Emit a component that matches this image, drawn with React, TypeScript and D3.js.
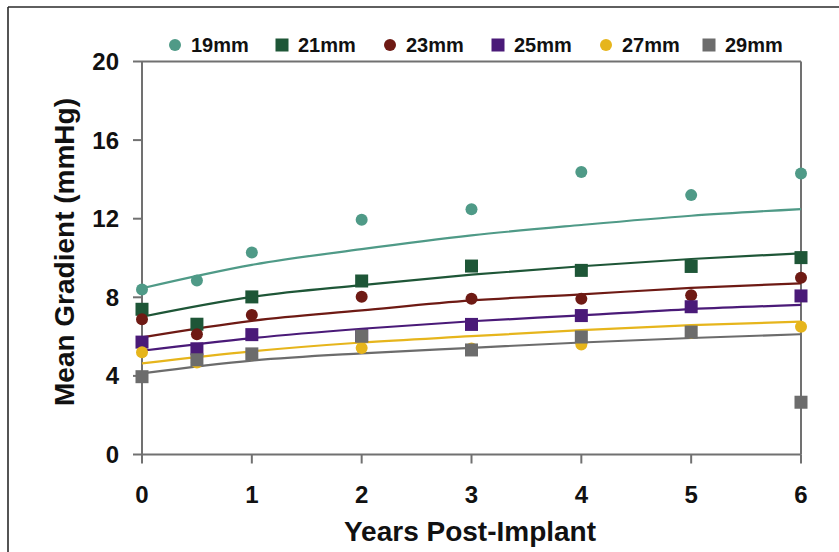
import React from "react";
import * as d3 from "d3";

const years = [0, 0.5, 1, 2, 3, 4, 5, 6];
const trendYears = [0, 1, 2, 3, 4, 5, 6];
const sizes = ["19mm", "21mm", "23mm", "25mm", "27mm", "29mm"];
const shapes = ["circle", "square", "circle", "square", "circle", "square"];
const colors = ["#4F9A87", "#1E5637", "#6E1A14", "#4A1A78", "#E6B51C", "#6C6C6C"];

const g19 = [8.4, 8.85, 10.28, 11.95, 12.48, 14.38, 13.2, 14.3];
const g21 = [7.39, 6.63, 8.02, 8.83, 9.59, 9.37, 9.57, 10.02];
const g23 = [6.88, 6.12, 7.1, 8.03, 7.93, 7.92, 8.1, 9.0];
const g25 = [5.72, 5.38, 6.1, 6.05, 6.62, 7.07, 7.52, 8.07];
const g27 = [5.2, 4.68, 5.1, 5.42, 5.4, 5.6, 6.2, 6.5];
const g29 = [3.96, 4.82, 5.12, 6.02, 5.32, 5.98, 6.23, 2.66];

const t19 = [8.46, 9.65, 10.45, 11.15, 11.68, 12.15, 12.49];
const t21 = [7.01, 8.02, 8.62, 9.15, 9.58, 9.95, 10.24];
const t23 = [5.96, 6.8, 7.33, 7.84, 8.15, 8.48, 8.71];
const t25 = [5.28, 5.92, 6.4, 6.78, 7.08, 7.4, 7.61];
const t27 = [4.64, 5.25, 5.7, 6.02, 6.33, 6.58, 6.76];
const t29 = [4.13, 4.78, 5.15, 5.43, 5.7, 5.93, 6.12];

const xTicks = [0, 1, 2, 3, 4, 5, 6];
const yTicks = [0, 4, 8, 12, 16, 20];

const points = [g19, g21, g23, g25, g27, g29];
const trends = [t19, t21, t23, t25, t27, t29];

const W = 839;
const H = 552;
const FONT = "'Liberation Sans', Arial, sans-serif";

export default function App() {
  const x = d3.scaleLinear().domain([0, 6]).range([142, 801]);
  const y = d3.scaleLinear().domain([0, 20]).range([454.5, 61.5]);
  const line = d3
    .line<number>()
    .x((_, i) => x(trendYears[i]))
    .y((d) => y(d))
    .curve(d3.curveMonotoneX);

  const axisColor = "#717171";

  const marker = (shape: string, cx: number, cy: number, color: string, key: string) =>
    shape === "circle" ? (
      <circle key={key} cx={cx} cy={cy} r={6} fill={color} />
    ) : (
      <rect key={key} x={cx - 6.5} y={cy - 6.5} width={13} height={13} fill={color} />
    );

  const legendX = [175, 282, 390, 498, 606, 709];

  return (
    <svg
      width={W}
      height={H}
      style={{ position: "absolute", left: 0, top: 0, background: "#fff" }}
      fontFamily={FONT}
    >
      <rect x={0} y={0} width={W} height={H} fill="#fff" />
      {/* outer frame */}
      <line x1={8} y1={7} x2={W + 5} y2={7} stroke="#2a2a2a" strokeWidth={1.6} />
      <line x1={8} y1={7} x2={8} y2={H + 5} stroke="#2a2a2a" strokeWidth={1.6} />

      {/* plot box */}
      <line x1={x(0)} y1={y(20)} x2={x(6)} y2={y(20)} stroke={axisColor} strokeWidth={2} />
      <line x1={x(6)} y1={y(20)} x2={x(6)} y2={y(0)} stroke={axisColor} strokeWidth={2} />
      <line x1={x(0)} y1={y(0)} x2={x(6)} y2={y(0)} stroke={axisColor} strokeWidth={2} />
      <line x1={x(0)} y1={y(20)} x2={x(0)} y2={y(0)} stroke={axisColor} strokeWidth={2} />

      {yTicks.map((t) => (
        <g key={"y" + t}>
          <line x1={x(0) - 9} x2={x(0)} y1={y(t)} y2={y(t)} stroke={axisColor} strokeWidth={2} />
          <text
            x={119}
            y={y(t)}
            textAnchor="end"
            dominantBaseline="central"
            fontSize={24}
            fontWeight="bold"
            fill="#111"
          >
            {t}
          </text>
        </g>
      ))}
      {xTicks.map((t) => (
        <g key={"x" + t}>
          <line x1={x(t)} x2={x(t)} y1={y(0)} y2={y(0) + 9} stroke={axisColor} strokeWidth={2} />
          <text
            x={x(t)}
            y={494}
            textAnchor="middle"
            dominantBaseline="central"
            fontSize={24}
            fontWeight="bold"
            fill="#111"
          >
            {t}
          </text>
        </g>
      ))}

      <text
        transform={`translate(64,252) rotate(-90)`}
        textAnchor="middle"
        dominantBaseline="central"
        fontSize={28}
        fontWeight="bold"
        fill="#111"
      >
        Mean Gradient (mmHg)
      </text>
      <text x={470} y={531} textAnchor="middle" dominantBaseline="central" fontSize={28} fontWeight="bold" fill="#111">
        Years Post-Implant
      </text>

      {/* trend lines */}
      {trends.map((t, i) => (
        <path key={"t" + i} d={line(t) || ""} fill="none" stroke={colors[i]} strokeWidth={2.2} />
      ))}

      {/* data points */}
      {points.map((s, i) => (
        <g key={"p" + i}>{s.map((v, j) => marker(shapes[i], x(years[j]), y(v), colors[i], `m${i}-${j}`))}</g>
      ))}

      {/* legend */}
      {sizes.map((s, i) => (
        <g key={"l" + i}>
          {marker(shapes[i], legendX[i], 45, colors[i], "lm" + i)}
          <text x={legendX[i] + 16} y={45} dominantBaseline="central" fontSize={20} fontWeight="bold" fill="#111">
            {s}
          </text>
        </g>
      ))}
    </svg>
  );
}
